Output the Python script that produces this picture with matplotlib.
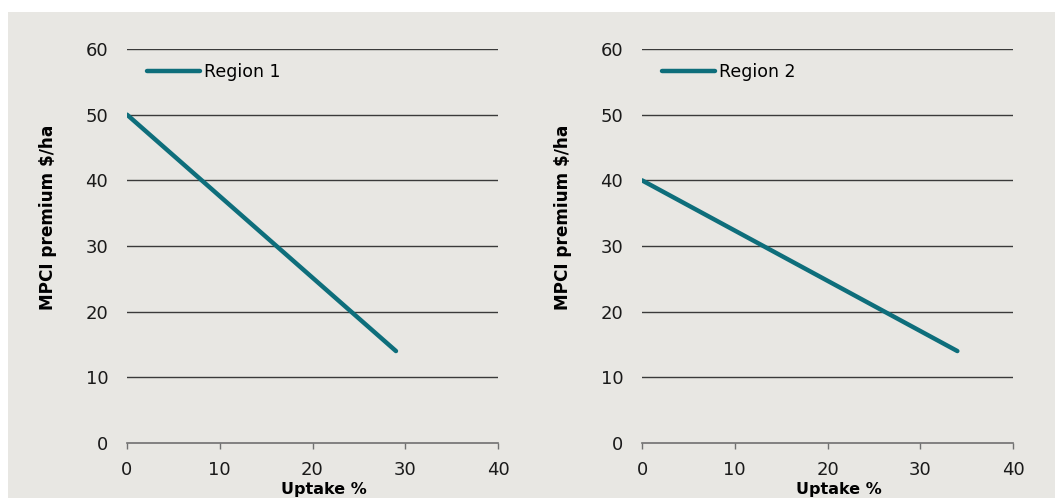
import matplotlib.pyplot as plt
from matplotlib.patches import Rectangle

plt.rcParams['font.family'] = ['DejaVu Sans']

# data
regions = ['Region 1', 'Region 2']
uptake = [[0, 29], [0, 34]]
premium = [[50, 14], [40, 14]]
xticks = [0, 10, 20, 30, 40]
yticks = [0, 10, 20, 30, 40, 50, 60]

bg = '#e8e7e3'
teal = '#0e6e7b'

fig = plt.figure(figsize=(10.55, 4.98), dpi=100, facecolor='white')
fig.patches.append(Rectangle((8 / 1055, 0), 1, 1 - 12 / 498, transform=fig.transFigure,
                             facecolor=bg, edgecolor='none', zorder=-10))

lefts = [127 / 1055, 642 / 1055]
for i, name in enumerate(regions):
    ax = fig.add_axes([lefts[i], 55 / 498, 371 / 1055, 394 / 498])
    ax.set_facecolor('none')
    for y in yticks[1:]:
        ax.axhline(y, color='#3a3a3a', lw=1.0, zorder=1)
    ax.plot(uptake[i], premium[i], color=teal, lw=3.2, solid_capstyle='round',
            label=name, zorder=3)
    ax.set_xlim(0, 40)
    ax.set_ylim(0, 60)
    ax.set_xticks(xticks)
    ax.set_yticks(yticks)
    for s in ['top', 'right', 'left']:
        ax.spines[s].set_visible(False)
    ax.spines['bottom'].set_color('#707070')
    ax.spines['bottom'].set_linewidth(1.2)
    ax.tick_params(axis='x', direction='out', length=4.5, width=1, color='#707070',
                   labelsize=13, pad=8.5, labelcolor='#1a1a1a')
    ax.tick_params(axis='y', length=0, labelsize=13, pad=13.5, labelcolor='#1a1a1a')
    ax.set_xlabel('Uptake %', fontsize=11.5, fontweight='bold', va='top')
    ax.xaxis.set_label_coords(0.531, -0.099)
    ax.set_ylabel('MPCI premium $/ha', fontsize=12.2, fontweight='bold')
    ax.yaxis.set_label_coords(-0.19, 0.574)
    ax.legend(loc='center left', bbox_to_anchor=(0.054, 0.942), frameon=False,
              fontsize=12.5, handlelength=3.05, handletextpad=0.23, borderpad=0,
              borderaxespad=0)

fig.savefig('out.png', dpi=100, facecolor='white')
